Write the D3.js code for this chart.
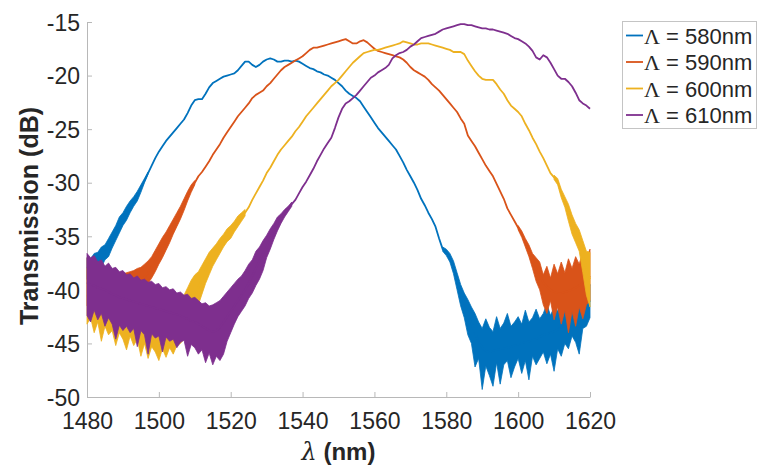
<!DOCTYPE html>
<html>
<head>
<meta charset="utf-8">
<script src="https://cdn.jsdelivr.net/npm/d3@7"></script>
<style>
  html, body { margin: 0; padding: 0; background: #fff; }
  svg { display: block; font-family: "Liberation Sans", Arial, Helvetica, sans-serif; }
</style>
</head>
<body>
<svg id="chart" width="760" height="466"></svg>
<script>
// ---------- data ----------
const wavelengthStart = 1480;          // nm, 1 nm sampling
const xTicks = [1480, 1500, 1520, 1540, 1560, 1580, 1600, 1620];
const yTicks = [-50, -45, -40, -35, -30, -25, -20, -15];
const seriesNames = ["Λ = 580nm", "Λ = 590nm", "Λ = 600nm", "Λ = 610nm"];
const seriesColors = ["#0072BD", "#D95319", "#EDB120", "#7E2F8E"];

// mean transmission (dB), 1480..1620 nm, 1 nm step
const t580 = [
 -38.0,-37.8,-37.5,-37.2,-36.9,-36.5,-36.0,-35.3,-34.6,-33.9,
 -33.3,-32.8,-32.2,-31.7,-31.2,-30.5,-29.8,-29.1,-28.4,-27.7,
 -27.1,-26.6,-26.1,-25.7,-25.3,-24.9,-24.5,-24.1,-23.5,-22.8,
 -22.3,-22.2,-22.2,-21.7,-21.1,-20.7,-20.5,-20.3,-20.1,-20.0,
 -19.9,-19.8,-19.5,-19.1,-18.7,-18.7,-19.0,-19.2,-19.0,-18.7,
 -18.5,-18.4,-18.5,-18.7,-18.7,-18.6,-18.6,-18.7,-18.6,-18.7,
 -18.9,-19.1,-19.3,-19.4,-19.6,-19.7,-19.9,-20.0,-20.2,-20.4,
 -20.7,-21.0,-21.4,-21.7,-21.9,-22.1,-22.4,-22.9,-23.4,-23.9,
 -24.4,-24.9,-25.3,-25.7,-26.1,-26.5,-26.9,-27.5,-28.1,-28.8,
 -29.4,-30.0,-30.7,-31.5,-32.1,-32.8,-33.4,-34.1,-35.2,-36.2,
 -36.5,-37.0,-37.9,-39.0,-40.3,-41.2,-42.1,-43.1,-44.0,-44.8,
 -45.4,-45.7,-45.8,-45.7,-45.6,-45.5,-45.5,-45.4,-45.3,-45.2,
 -45.1,-45.0,-44.9,-44.8,-44.7,-44.6,-44.4,-44.2,-44.1,-44.0,
 -43.9,-43.7,-43.5,-43.3,-43.1,-42.8,-42.5,-42.2,-41.9,-41.5,
 -41.0];
const t590 = [
 -39.0,-39.1,-39.2,-39.3,-39.4,-39.5,-39.5,-39.6,-39.6,-39.6,
 -39.6,-39.6,-39.5,-39.4,-39.3,-39.1,-38.8,-38.4,-37.9,-37.3,
 -36.6,-36.0,-35.4,-34.8,-34.1,-33.4,-32.8,-32.0,-31.2,-30.5,
 -30.0,-29.4,-29.0,-28.5,-28.0,-27.4,-26.9,-26.4,-25.8,-25.3,
 -24.8,-24.3,-23.8,-23.4,-23.0,-22.6,-22.1,-21.8,-21.6,-21.4,
 -21.0,-20.7,-20.3,-19.9,-19.5,-19.2,-19.0,-18.8,-18.6,-18.4,
 -18.2,-17.9,-17.6,-17.4,-17.4,-17.3,-17.2,-17.1,-17.0,-16.9,
 -16.8,-16.7,-16.6,-16.8,-17.0,-17.0,-16.8,-16.7,-16.9,-17.2,
 -17.5,-17.7,-17.8,-17.9,-18.0,-18.1,-18.2,-18.3,-18.5,-18.8,
 -19.2,-19.5,-19.7,-19.9,-20.1,-20.4,-20.8,-21.1,-21.4,-21.8,
 -22.2,-22.6,-23.0,-23.4,-24.0,-24.5,-25.6,-26.1,-26.6,-27.2,
 -27.8,-28.4,-28.9,-29.4,-30.1,-30.8,-31.5,-32.4,-33.0,-33.6,
 -34.2,-34.8,-35.6,-36.3,-37.3,-38.0,-38.6,-39.3,-39.7,-40.0,
 -40.2,-40.3,-40.3,-40.2,-40.1,-40.0,-39.8,-39.6,-39.3,-39.0,
 -38.7];
const t600 = [
 -40.5,-40.7,-40.9,-41.1,-41.3,-41.5,-41.7,-41.8,-41.9,-42.0,
 -42.1,-42.2,-42.3,-42.4,-42.5,-42.6,-42.7,-42.8,-42.9,-43.0,
 -43.0,-43.1,-43.1,-43.2,-43.2,-43.1,-42.9,-42.5,-42.0,-41.4,
 -40.6,-39.8,-39.0,-38.2,-37.5,-36.9,-36.4,-35.9,-35.4,-34.9,
 -34.6,-34.1,-33.6,-33.2,-32.8,-32.3,-31.6,-31.0,-30.4,-29.8,
 -29.1,-28.6,-28.0,-27.4,-26.9,-26.5,-26.1,-25.7,-25.2,-24.8,
 -24.3,-23.8,-23.4,-23.0,-22.6,-22.2,-21.8,-21.4,-21.0,-20.7,
 -20.4,-20.0,-19.6,-19.2,-18.8,-18.5,-18.2,-17.9,-17.8,-17.7,
 -17.6,-17.6,-17.5,-17.4,-17.3,-17.2,-17.1,-17.0,-16.8,-16.9,
 -17.0,-17.1,-17.1,-17.0,-17.0,-17.0,-17.1,-17.2,-17.3,-17.4,
 -17.5,-17.6,-17.8,-17.8,-17.8,-18.0,-18.6,-19.1,-19.6,-20.0,
 -20.3,-20.4,-20.4,-20.4,-20.8,-21.3,-21.7,-22.3,-22.8,-23.1,
 -23.4,-23.8,-24.5,-25.1,-25.8,-26.4,-27.1,-27.7,-28.4,-29.1,
 -29.5,-29.9,-31.0,-31.8,-32.8,-33.9,-34.6,-35.2,-36.7,-38.0,
 -39.0];
const t610 = [
 -39.3,-39.5,-39.6,-39.8,-39.9,-40.0,-40.2,-40.4,-40.5,-40.7,
 -40.8,-40.9,-41.0,-41.1,-41.2,-41.3,-41.4,-41.5,-41.6,-41.7,
 -41.8,-41.9,-42.0,-42.1,-42.2,-42.3,-42.4,-42.6,-42.7,-42.9,
 -43.0,-43.2,-43.4,-43.6,-43.8,-43.9,-43.8,-43.5,-43.0,-42.5,
 -42.0,-41.5,-41.0,-40.5,-40.0,-39.4,-38.7,-38.0,-37.3,-36.6,
 -36.0,-35.2,-34.5,-33.8,-33.3,-32.8,-32.4,-32.0,-31.6,-31.0,
 -30.4,-29.9,-29.3,-28.7,-28.0,-27.4,-26.8,-26.3,-25.8,-24.9,
 -23.9,-23.1,-22.6,-22.4,-22.1,-21.8,-21.4,-21.0,-20.6,-20.2,
 -20.0,-19.7,-19.5,-19.3,-19.0,-18.4,-18.1,-17.9,-17.8,-17.6,
 -17.3,-17.1,-16.8,-16.5,-16.4,-16.3,-16.2,-16.1,-15.9,-15.7,
 -15.6,-15.5,-15.4,-15.3,-15.2,-15.2,-15.3,-15.3,-15.4,-15.5,
 -15.6,-15.6,-15.7,-15.7,-15.8,-15.9,-16.0,-16.1,-16.3,-16.5,
 -16.6,-16.8,-17.0,-17.3,-17.7,-18.3,-18.5,-18.1,-18.3,-18.8,
 -19.4,-20.0,-20.3,-20.3,-20.6,-21.0,-21.6,-22.3,-22.6,-22.8,
 -23.1];

// noise envelopes (upper / lower reading, dB) in the noisy stretches, 1 nm step
const noise580a = { start: 1480,
 hi: [-37.0,-37.1,-36.6,-36.5,-36.0,-35.8,-35.2,-34.6,-34.0,-33.2,-32.8,-32.2,-31.7,-31.3,-30.8,-30.2,-29.6,-29.0],
 lo: [-39.0,-38.6,-38.5,-37.9,-37.9,-37.2,-36.9,-36.1,-35.4,-34.7,-34.0,-33.5,-32.8,-32.2,-31.7,-30.9,-30.0,-29.2] };
const noise580b = { start: 1579,
 hi: [-36.0,-36.2,-36.6,-37.3,
      -38.4,-39.5,-40.3,-40.9,-41.6,-42.2,-43.0,-43.6,-42.7,-43.5,-43.9,-42.5,-43.6,-43.1,-42.2,-43.4,-43.0,-42.5,-43.2,
      -41.9,-43.0,-42.6,-41.8,-42.7,-42.2,-41.3,-42.4,-41.6,-42.0,-40.8,-41.7,-40.9,-41.4,-40.2,-40.9,-39.6,-40.4,-39.5],
 lo: [-36.4,-36.8,-37.4,-38.5,
      -40.0,-41.5,-42.6,-44.2,-45.0,-47.2,-46.4,-49.3,-47.1,-48.0,-49.0,-46.8,-48.8,-47.0,-46.6,-48.2,-47.2,-46.4,-47.8,
      -46.6,-48.4,-46.2,-47.0,-46.4,-45.8,-46.9,-46.0,-47.6,-45.5,-46.2,-45.0,-45.5,-44.3,-44.9,-46.0,-43.6,-43.4,-42.6] };
const noise590a = { start: 1480,
 hi: [-37.0,-37.4,-37.6,-37.8,-38.0,-38.2,-38.3,-38.4,-38.5,-38.5,
      -38.5,-38.4,-38.3,-38.2,-38.0,-37.9,-37.6,-37.3,-36.9,-36.3,
      -35.7,-35.1,-34.6,-34.0,-33.4,-32.8,-32.2,-31.5,-30.8,-30.2,-29.8],
 lo: [-41.5,-41.2,-41.3,-41.1,-41.0,-41.0,-40.8,-40.9,-40.8,-40.7,
      -40.8,-40.6,-40.7,-40.5,-40.4,-40.3,-39.9,-39.4,-38.9,-38.3,
      -37.6,-37.0,-36.3,-35.6,-34.8,-34.1,-33.4,-32.6,-31.7,-30.9,-30.2] };
const noise590b = { start: 1600,
 hi: [-34.0,-34.5,-35.2,-35.8,
      -36.6,-37.0,-37.4,-38.6,-37.8,-38.9,-37.6,-38.5,-37.4,-38.4,-37.1,-38.0,-36.9,-37.6,-36.4,-37.0,-36.2],
 lo: [-34.4,-35.1,-36.0,-36.9,
      -38.0,-39.2,-40.0,-41.4,-42.2,-41.0,-42.8,-41.6,-43.2,-41.9,-44.0,-42.0,-43.4,-41.6,-42.7,-41.4,-41.0] };
const noise600a = { start: 1480,
 hi: [-38.0,-38.5,-38.8,-39.0,-39.2,-39.4,-39.5,-39.7,-39.8,-40.0,
      -40.1,-40.2,-40.4,-40.5,-40.6,-40.7,-40.8,-40.8,-40.9,-40.9,
      -40.9,-41.0,-41.0,-41.1,-41.1,-41.0,-40.8,-40.5,-39.8,-39.1,
      -38.6,-38.3,-37.7,-37.1,-36.5,-36.1,-35.7,-35.2,-34.8,-34.3,-34.0,-33.6,-33.1,-32.8,-32.5],
 lo: [-43.2,-42.6,-44.0,-43.0,-44.8,-43.4,-44.2,-43.8,-45.2,-44.0,
      -44.6,-45.6,-44.3,-45.2,-44.6,-46.2,-45.0,-46.4,-45.3,-45.8,
      -46.6,-45.5,-46.3,-45.4,-46.0,-45.2,-45.0,-44.6,-44.2,-43.5,
      -42.4,-41.4,-40.4,-39.4,-38.6,-37.8,-37.2,-36.6,-36.0,-35.5,-35.2,-34.6,-34.1,-33.6,-33.1] };
const noise600b = { start: 1610,
 hi: [-29.3,-29.6,-30.6,-31.3,-32.0,-33.0,-33.8,-34.4,-35.4,-36.4,-36.5],
 lo: [-29.7,-30.2,-31.4,-32.3,-33.6,-34.8,-35.6,-36.4,-38.4,-40.5,-41.6] };
const noise610a = { start: 1480,
 hi: [-36.6,-37.0,-36.8,-37.4,-37.2,-37.8,-37.5,-38.0,-37.9,-38.3,
      -38.2,-38.6,-38.5,-38.9,-38.7,-39.1,-39.0,-39.3,-39.2,-39.5,
      -39.4,-39.8,-39.7,-40.0,-39.9,-40.3,-40.2,-40.5,-40.4,-40.8,
      -40.7,-41.0,-41.3,-41.2,-41.5,-41.4,-41.2,-41.0,-40.6,-40.2,
      -39.8,-39.4,-39.0,-38.7,-38.2,-37.6,-37.2,-36.4,-36.0,-35.4,
      -34.9,-34.3,-33.8,-33.2,-32.9,-32.5,-32.2,-31.8],
 lo: [-42.4,-43.0,-41.9,-42.8,-42.2,-43.4,-42.6,-43.2,-44.6,-43.3,
      -43.8,-43.4,-44.0,-43.6,-45.3,-43.8,-44.2,-46.0,-44.1,-44.5,
      -44.3,-45.8,-44.4,-44.8,-44.6,-45.4,-44.9,-44.7,-46.2,-45.1,
      -45.4,-46.0,-45.6,-46.8,-45.9,-47.0,-46.2,-46.6,-46.0,-44.8,
      -44.0,-43.2,-42.5,-42.0,-41.5,-40.8,-40.3,-39.6,-39.0,-38.2,
      -37.0,-36.2,-35.3,-34.5,-33.8,-33.2,-32.7,-32.2] };

const seriesValues = [t580, t590, t600, t610];
const seriesNoise = [[noise580a, noise580b], [noise590a, noise590b], [noise600a, noise600b], [noise610a]];

// ---------- drawing ----------
const svg = d3.select("#chart");
const x = d3.scaleLinear().domain([1480, 1620]).range([87, 590]);
const y = d3.scaleLinear().domain([-50, -15]).range([397, 22]);
const axisColor = "#b8b8b8";
const textColor = "#262626";

// axes
const gx = svg.append("g").attr("transform", "translate(0,397)")
  .call(d3.axisBottom(x).tickValues(xTicks).tickFormat(d3.format("d")).tickSizeInner(-5).tickSizeOuter(0).tickPadding(16));
const gy = svg.append("g").attr("transform", "translate(87,0)")
  .call(d3.axisLeft(y).tickValues(yTicks).tickFormat(d => d.toString()).tickSizeInner(-5).tickSizeOuter(0).tickPadding(7));
[gx, gy].forEach(g => {
  g.select(".domain").attr("stroke", axisColor).attr("stroke-width", 1);
  g.selectAll(".tick line").attr("stroke", axisColor);
  g.selectAll(".tick text").attr("fill", textColor)
    .style("font-family", "'Liberation Sans', Arial, sans-serif").style("font-size", "23px");
});
gy.selectAll(".tick text").attr("dy", "0.36em");

// series
const line = d3.line().x(d => x(d[0])).y(d => y(d[1]));
const area = d3.area().x(d => x(d[0])).y0(d => y(d[1])).y1(d => y(d[2]));
const plot = svg.append("g");
seriesValues.forEach((vals, i) => {
  const col = seriesColors[i];
  const g = plot.append("g");
  seriesNoise[i].forEach(n => {
    const pts = n.hi.map((h, k) => [n.start + k, h, n.lo[k]]);
    g.append("path").datum(pts).attr("d", area)
      .attr("fill", col).attr("stroke", col).attr("stroke-width", 0.8).attr("stroke-linejoin", "round");
  });
  const pts = vals.map((v, k) => [wavelengthStart + k, v]);
  g.append("path").datum(pts).attr("d", line)
    .attr("fill", "none").attr("stroke", col).attr("stroke-width", 1.8)
    .attr("stroke-linejoin", "round");
});

// axis titles
const xt = svg.append("text").attr("x", 338.5).attr("y", 460).attr("text-anchor", "middle")
  .attr("fill", textColor).style("font-size", "24px").style("font-weight", "bold");
xt.append("tspan").style("font-style", "italic").style("font-family", "'DejaVu Serif', serif").style("font-weight", "normal").text("λ");
xt.append("tspan").text(" (nm)");
svg.append("text").attr("transform", "translate(38,216) rotate(-90)").attr("text-anchor", "middle")
  .attr("fill", textColor).style("font-size", "25px").style("font-weight", "bold")
  .text("Transmission (dB)");

// legend
const lg = svg.append("g");
lg.append("rect").attr("x", 622.5).attr("y", 21.5).attr("width", 134).attr("height", 107)
  .attr("fill", "#fff").attr("stroke", "#c4c4c4").attr("stroke-width", 1);
seriesNames.forEach((name, i) => {
  const yy = 35.5 + i * 26.5;
  lg.append("line").attr("x1", 626).attr("x2", 643).attr("y1", yy).attr("y2", yy)
    .attr("stroke", seriesColors[i]).attr("stroke-width", 1.8);
  const t = lg.append("text").attr("x", 644).attr("y", yy + 8).attr("fill", textColor).style("font-size", "22px");
  t.append("tspan").style("font-family", "'Liberation Serif', 'Times New Roman', serif").text(name.charAt(0));
  t.append("tspan").text(name.slice(1));
});
</script>
</body>
</html>
